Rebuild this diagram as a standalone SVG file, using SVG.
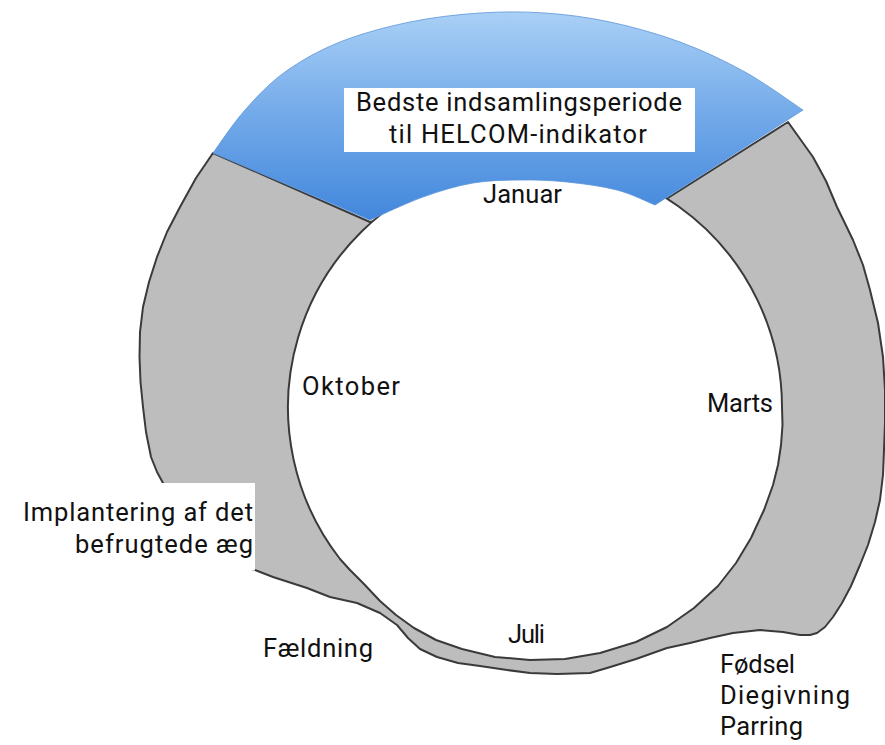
<svg xmlns="http://www.w3.org/2000/svg" width="885" height="745" viewBox="0 0 885 745">
  <defs>
    <linearGradient id="blueGrad" x1="0" y1="0" x2="0" y2="1">
      <stop offset="0" stop-color="#a9d0f6"/>
      <stop offset="0.5" stop-color="#72a9e9"/>
      <stop offset="1" stop-color="#4287dc"/>
    </linearGradient>
    <style>
      .lbl { font-family: Roboto, "Liberation Sans", sans-serif; font-size: 25.5px; fill: #111111; }
      .ring { fill: #bdbdbd; stroke: #3a3a3a; stroke-width: 2; stroke-linejoin: round; }
      .hole { fill: #ffffff; stroke: #3a3a3a; stroke-width: 2; stroke-linejoin: round; }
    </style>
  </defs>
  <rect x="0" y="0" width="885" height="745" fill="#ffffff"/>

  <g id="ring">
    <path class="ring" d="M 788,122 L 813,157 L 826,181 L 837,207 L 853,240 L 863,265 L 870,290 L 878,323 L 883,357 L 885,390 L 885,423 L 884,450 L 883,475 L 880,500 L 875,522 L 868,545 L 860,565 L 851,586 L 842,603 L 833,617 L 825,627 L 817,633 L 810,635 L 800,635 L 783,632 L 760,630 L 733,633 L 710,638 L 690,643 L 667,648 L 636,659 L 607,668 L 590,673 L 557,674 L 530,673 L 507,670 L 480,666 L 458,663 L 437,657 L 420,649 L 408,638 L 397,625 L 380,613 L 357,603 L 330,597 L 307,588 L 273,577 L 255,570 L 240,566 L 200,560 L 170,520 L 163,483 L 157,472 L 151,457 L 146,432 L 143,407 L 140.5,382 L 139.5,357 L 140,332 L 143,307 L 149,282 L 157,257 L 167,232 L 180,207 L 196,178 L 213,153 L 370,222 L 520,185 L 660,203 Z"/>
    <path class="hole" d="M 340,559 A 247 247 0 1 1 782,407 L 782.5,425 L 781,445 L 778,465 L 773,485 L 764,510 L 751,538 L 736,563 L 718,586 L 694,608 L 667,627 L 636,642 L 600,653 L 565,659 L 530,660 L 495,657 L 462,649 L 436,640 L 414,628 L 396,615 L 380,601 L 363,583 L 350,570 Z"/>
    <rect x="0" y="483" width="255" height="87.5" fill="#ffffff"/>
  </g>

  <g id="best-period">
    <path fill="url(#blueGrad)" stroke="#5d95d8" stroke-width="0.8" stroke-linejoin="round" d="M 213,153 C 218.3,145.8 233,123.5 245,110 C 257,96.5 269.2,83.3 285,72 C 300.8,60.7 319.2,50.3 340,42 C 360.8,33.7 386.7,26.8 410,22 C 433.3,17.2 457.5,14.5 480,13 C 502.5,11.5 523.3,11.5 545,13 C 566.7,14.5 587.5,17.2 610,22 C 632.5,26.8 657.5,33.7 680,42 C 702.5,50.3 724.5,60.7 745,72 C 765.5,83.3 793.3,103.7 803,110 L 655,205 C 648.7,202.5 631.7,193.8 617,190 C 602.3,186.2 583.2,183.7 567,182 C 550.8,180.3 535.7,179.8 520,180 C 504.3,180.2 489.2,180.2 473,183 C 456.8,185.8 440.2,190.8 423,197 C 405.8,203.2 378.8,216.2 370,220 Z"/>
    <rect x="344" y="88" width="351" height="64" fill="#ffffff"/>
    <text class="lbl" x="356" y="111" textLength="326">Bedste indsamlingsperiode</text>
    <text class="lbl" x="389" y="143" textLength="258">til HELCOM-indikator</text>
  </g>

  <g id="months">
    <text class="lbl" x="483" y="203" textLength="79">Januar</text>
    <text class="lbl" x="707" y="412" textLength="66">Marts</text>
    <text class="lbl" x="508" y="643" textLength="37">Juli</text>
    <text class="lbl" x="302" y="395" textLength="98">Oktober</text>
  </g>

  <g id="events">
    <text class="lbl" x="23" y="521" textLength="230">Implantering af det</text>
    <text class="lbl" x="75" y="553" textLength="178">befrugtede æg</text>
    <text class="lbl" x="263" y="657" textLength="110">Fældning</text>
    <text class="lbl" x="720" y="673" textLength="75">Fødsel</text>
    <text class="lbl" x="720" y="704" textLength="130">Diegivning</text>
    <text class="lbl" x="720" y="735" textLength="83">Parring</text>
  </g>

  <g id="connectors"></g>
</svg>
